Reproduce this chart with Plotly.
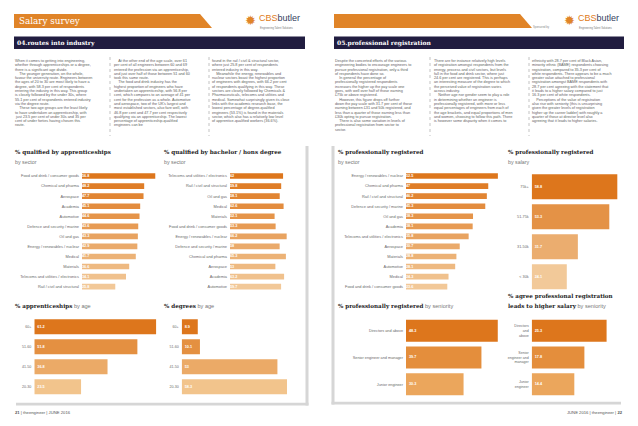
import textwrap
import plotly.graph_objects as go

W, H = 638, 426

# ---------------- data ----------------
appr_sector_cats = ["Food and drink / consumer goods", "Chemical and pharma", "Aerospace", "Academia",
                    "Automotive", "Defence and security / marine", "Oil and gas",
                    "Energy / renewables / nuclear", "Medical", "Materials",
                    "Telecoms and utilities / electronics", "Rail / civil and structural"]
appr_sector_vals = [56.8, 48.2, 47.7, 45.1, 44.6, 43.6, 43.3, 42.9, 41.7, 36.6, 34.1, 25.8]

degree_sector_cats = ["Telecoms and utilities / electronics", "Rail / civil and structural", "Oil and gas",
                      "Medical", "Materials", "Food and drink / consumer goods",
                      "Energy / renewables / nuclear", "Defence and security / marine",
                      "Chemical and pharma", "Aerospace", "Academia", "Automotive"]
degree_sector_vals = [62, 59.8, 58.1, 62.6, 52.1, 53.3, 66.2, 58, 65.3, 53, 63.2, 59.7]

reg_sector_cats = ["Energy / renewables / nuclear", "Chemical and pharma", "Rail / civil and structural",
                   "Defence and security / marine", "Oil and gas", "Academia",
                   "Telecoms and utilities / electronics", "Aerospace", "Materials", "Automotive",
                   "Medical", "Food and drink / consumer goods"]
reg_sector_vals = [52.5, 47, 46.2, 45.3, 38.3, 38.1, 35.8, 30.7, 28.8, 28.1, 24.3, 23.6]

salary_cats = ["75k+", "51-75k", "31-50k", "< 30k"]
reg_salary_vals = [58.8, 53.3, 31.7, 24.1]

age_cats = ["60+", "51-60", "41-50", "20-30"]
appr_age_vals = [61.2, 51.8, 36.8, 23.5]
degree_age_vals = [8.9, 10.1, 53, 58.3]

seniority_cats = ["Directors and above", "Senior engineer and manager", "Junior engineer"]
reg_seniority_vals = [48.3, 39.7, 30.3]
agree_seniority_vals = [25.3, 17.8, 14.4]
agree_ticktext = ["Directors<br>and<br>above", "Senior<br>engineer and<br>manager", "Junior<br>engineer"]

# ---------------- helpers ----------------
ORANGE = "#e08428"
NAVY = "#211d40"


def px(x):
    return x / W


def py(y):
    return 1 - y / H


def grad(n, c0=(221, 118, 28), c1=(242, 200, 152)):
    out = []
    for i in range(n):
        t = 0 if n == 1 else i / (n - 1)
        r, g, b = [round(a + (bb - a) * t) for a, bb in zip(c0, c1)]
        out.append(f"rgb({r},{g},{b})")
    return out


fig = go.Figure()
layout = {}
annotations = []
shapes = []


def add_chart(idx, cats, vals, x0, x1, y0, y1, ppu, colors, width, ticktext=None,
              tfs=3.9, vfs=3.8):
    fig.add_trace(go.Bar(
        y=cats, x=vals, orientation="h", width=width,
        marker=dict(color=colors, line=dict(width=0)),
        text=[f"{v:g}" for v in vals], texttemplate="<b>%{text}</b>",
        textposition="inside", insidetextanchor="start", constraintext="none",
        textfont=dict(color="white", size=vfs, family="Liberation Sans"),
        xaxis=f"x{idx}", yaxis=f"y{idx}", hoverinfo="skip", showlegend=False,
    ))
    xa = "xaxis" if idx == 1 else f"xaxis{idx}"
    ya = "yaxis" if idx == 1 else f"yaxis{idx}"
    layout[xa] = dict(domain=[px(x0), px(x1)], range=[0, (x1 - x0) / ppu], visible=False,
                      anchor=f"y{idx}", fixedrange=True)
    yd = dict(domain=[py(y1), py(y0)], type="category", autorange="reversed",
              anchor=f"x{idx}", showgrid=False, showline=False, zeroline=False, ticks="",
              tickfont=dict(size=tfs, color="#6a6a6a", family="Liberation Sans"),
              ticklabelstandoff=2, fixedrange=True)
    if ticktext is not None:
        yd["tickmode"] = "array"
        yd["tickvals"] = cats
        yd["ticktext"] = ticktext
    layout[ya] = yd


# sector charts (12 rows, row pitch ~10 px)
SY0, SY1 = 171.0, 291.7
add_chart(1, appr_sector_cats, appr_sector_vals, 82, 160, SY0, SY1, 1.29, grad(12), 0.56)
add_chart(2, degree_sector_cats, degree_sector_vals, 230, 305, SY0, SY1, 0.856, grad(12), 0.56)
add_chart(3, reg_sector_cats, reg_sector_vals, 406, 500, SY0, SY1, 1.75, grad(12), 0.56)

# salary
add_chart(4, salary_cats, reg_salary_vals, 531.7, 620, 171.7, 291.7, 1.456,
          grad(4, c1=(242, 201, 153)), 0.83, tfs=3.8)

# age charts
add_chart(5, age_cats, appr_age_vals, 34.3, 160, 316.7, 396.7, 1.99,
          grad(4, c1=(242, 196, 140)), 0.75, tfs=3.6)
add_chart(6, age_cats, degree_age_vals, 181.7, 300, 316.7, 396.7, 1.806,
          grad(4, c1=(242, 196, 140)), 0.75, tfs=3.6)

# seniority charts
add_chart(7, seniority_cats, reg_seniority_vals, 406, 500, 317.3, 397.7, 1.9,
          grad(3, c1=(235, 166, 92)), 0.82, tfs=3.8)
add_chart(8, seniority_cats, agree_seniority_vals, 531.7, 620, 317.3, 397.7, 2.96,
          grad(3, c1=(235, 166, 92)), 0.82, ticktext=agree_ticktext, tfs=3.6)


def ann(x, y, text, size, color="#333", family="Liberation Sans", xanchor="left",
        yanchor="middle", align="left"):
    annotations.append(dict(x=px(x), y=py(y), xref="paper", yref="paper", text=text,
                            showarrow=False, xanchor=xanchor, yanchor=yanchor, align=align,
                            font=dict(size=size, color=color, family=family), borderpad=0))


def rect(x0, y0, x1, y1, color, line=None):
    shapes.append(dict(type="rect", xref="paper", yref="paper", x0=px(x0), x1=px(x1),
                       y0=py(y1), y1=py(y0), fillcolor=color,
                       line=dict(width=0) if line is None else line, layer="below"))


def poly(points, color):
    path = "M " + " L ".join(f"{px(x)},{py(y)}" for x, y in points) + " Z"
    shapes.append(dict(type="path", xref="paper", yref="paper", path=path, fillcolor=color,
                       line=dict(width=0), layer="below"))


# ---------------- page headers ----------------
poly([(14, 14), (200, 14), (212, 28), (14, 28)], ORANGE)
poly([(334, 14), (520, 14), (532, 28), (334, 28)], ORANGE)
ann(18, 21.3, "Salary survey", 8.8, "white", "DejaVu Serif")
rect(14, 36.5, 305, 49, NAVY)
rect(334, 36.5, 624, 49, NAVY)
ann(16, 43, "<b>04.routes into industry</b>", 6.0, "white", "DejaVu Serif")
ann(336, 43, "<b>05.professional registration</b>", 6.0, "white", "DejaVu Serif")

# logos
for gx, tx in [(250, 257.5), (569, 576.5)]:
    ann(gx, 20.5, "✹", 13, ORANGE, "DejaVu Sans", xanchor="center")
    shapes.append(dict(type="circle", xref="paper", yref="paper",
                       x0=px(gx - 0.5), x1=px(gx + 3.5), y0=py(23), y1=py(19),
                       fillcolor="#2d4f8f", line=dict(width=0), layer="above"))
    ann(tx, 18, "<span style='color:#e07b1a'>CBS</span>butler", 9.0, "#35405e", "Liberation Sans")
    ann(tx + 1, 27.8, "Engineering Talent Solutions", 2.6, "#777", "Liberation Sans")
ann(532, 27, "Sponsored by", 2.6, "#888", "Liberation Sans")

# ---------------- body text ----------------
cols = [
    (14, False, [
        "When it comes to getting into engineering, whether through apprenticeships or a degree, there is a significant age divide.",
        "The younger generation, on the whole, favour the university route. Engineers between the ages of 20 to 30 are most likely to have a degree, with 58.3 per cent of respondents entering the industry in this way. This group is closely followed by the under 30s, where 55.1 per cent of respondents entered industry via the degree route.",
        "These two age groups are the least likely to have undertaken an apprenticeship, with just 23.5 per cent of under 30s and 35 per cent of under forties having chosen this route."]),
    (113, True, [
        "At the other end of the age scale, over 61 per cent of all engineers between 60 and 69 entered the profession via an apprenticeship, and just over half of those between 51 and 60 took this same route.",
        "The food and drink industry has the highest proportion of engineers who have undertaken an apprenticeship, with 56.8 per cent, which compares to an average of 41 per cent for the profession as a whole. Automotive and aerospace, two of the UK's largest and most established sectors, also fare well, with 46.8 per cent and 47.7 per cent respectively qualifying via an apprenticeship. The lowest percentage of apprenticeship-qualified engineers can be"]),
    (211, False, [
        "found in the rail / civil & structural sector, where just 25.8 per cent of respondents entered industry in this way.",
        "Meanwhile the energy, renewables and nuclear sectors boast the highest proportion of engineers with degrees, with 66.2 per cent of respondents qualifying in this way. These sectors are closely followed by Chemicals & Pharmaceuticals, telecoms and utilities and medical. Somewhat surprisingly given its close links with the academic research base, the lowest percentage of degree-qualified engineers (53.1%) is found in the materials sector, which also has a relatively low level of apprentice-qualified workers (36.6%)."]),
    (334, False, [
        "Despite the concerted efforts of the various engineering bodies to encourage engineers to pursue professional registration, only a third of respondents have done so.",
        "In general the percentage of professionally registered respondents increases the higher up the pay scale one goes, with well over half of those earning £75k or above registered.",
        "However, this figure drops off further down the pay scale with 31.7 per cent of those earning between £31 and 50k registered, and less than a quarter of those earning less than £30k opting to pursue registration.",
        "There is also some variation in levels of professional registration from sector to sector."]),
    (433, False, [
        "There are for instance relatively high levels of registration amongst respondents from the energy, process and civil sectors, but levels fall in the food and drink sector, where just 24.6 per cent are registered. This is perhaps an interesting measure of the degree to which the perceived value of registration varies across industry.",
        "Neither age nor gender seem to play a role in determining whether an engineer is professionally registered, with more or less equal percentages of engineers from each of the age brackets, and equal proportions of men and women, choosing to follow this path. There is however some disparity when it comes to"]),
    (531, False, [
        "ethnicity with 28.7 per cent of Black Asian, minority ethnic (BAME) respondents choosing registration, compared to 35.3 per cent of white respondents. There appears to be a much greater value attached to professional registration amongst BAME respondents with 28.7 per cent agreeing with the statement that it leads to a higher salary compared to just 16.3 per cent of white respondents.",
        "Perceptions of the value of registration also rise with seniority (this is unsurprising given the greater levels of registration higher up the career ladder) with roughly a quarter of those at director level also agreeing that it leads to higher salaries."]),
]
IND = "\u00a0\u00a0\u00a0\u00a0"
for x0, first_indent, paras in cols:
    lines = []
    for pi, p in enumerate(paras):
        indent = first_indent or pi > 0
        wrapped = textwrap.wrap(p, width=46, initial_indent="    " if indent else "")
        lines += [w.replace("    ", IND, 1) if (indent and k == 0) else w for k, w in enumerate(wrapped)]
    n = len(lines)
    step = min(4.3, 72.0 / max(n - 1, 1))
    for i, line in enumerate(lines):
        ann(x0, 61 + i * step, line, 3.75, "#5e5e5e")

# dotted column separators
for x in [110, 209, 430, 529]:
    shapes.append(dict(type="line", xref="paper", yref="paper", x0=px(x), x1=px(x),
                       y0=py(57), y1=py(136), line=dict(color="#9a9a9a", width=0.6, dash="dot")))

# ---------------- panels / shadows ----------------
rect(305.5, 146, 308.5, 405.5, "#d6d6d6")
rect(16, 402.8, 308.5, 405.5, "#d6d6d6")
rect(331.5, 146, 334.5, 404.5, "#d6d6d6")
rect(331.5, 401.8, 621, 404.5, "#d6d6d6")

# ---------------- chart titles ----------------
TF = "DejaVu Serif"
TS = 5.6
SUB = "<span style='font-family:Liberation Sans;color:#777;font-weight:normal'>"
ann(14, 152, "<b>% qualified by apprenticeships</b>", TS, "#222", TF)
ann(14, 162, "by sector", 5.3, "#777")
ann(163, 152, "<b>% qualified by bachelor / hons degree</b>", TS, "#222", TF)
ann(163, 162, "by sector", 5.3, "#777")
ann(337, 152, "<b>% professionally registered</b>", TS, "#222", TF)
ann(337, 162, "by sector", 5.3, "#777")
ann(507, 152, "<b>% professionally registered</b>", TS, "#222", TF)
ann(507, 162, "by salary", 5.3, "#777")
ann(14, 306.7, "<b>% apprenticeships</b>" + SUB + " by age</span>", TS, "#222", TF)
ann(163, 306.7, "<b>% degrees</b>" + SUB + " by age</span>", TS, "#222", TF)
ann(337, 306.7, "<b>% professionally registered</b>" + SUB + " by seniority</span>", TS, "#222", TF)
ann(507, 296, "<b>% agree professional registration</b>", TS, "#222", TF)
ann(507, 306.7, "<b>leads to higher salary</b>" + SUB + " by seniority</span>", TS, "#222", TF)

# ---------------- footers ----------------
ann(14, 412, "<b>21</b> | theengineer | JUNE 2016", 4.2, "#555")
ann(624, 412, "JUNE 2016 | theengineer | <b>22</b>", 4.2, "#555", xanchor="right")

fig.update_layout(
    width=W, height=H, margin=dict(l=0, r=0, t=0, b=0),
    paper_bgcolor="white", plot_bgcolor="rgba(0,0,0,0)",
    annotations=annotations, shapes=shapes, showlegend=False,
    **layout,
)
fig.write_html("out.html", config={"displayModeBar": False, "staticPlot": True},
               post_script="document.body.style.margin='0';document.body.style.overflow='hidden';")
